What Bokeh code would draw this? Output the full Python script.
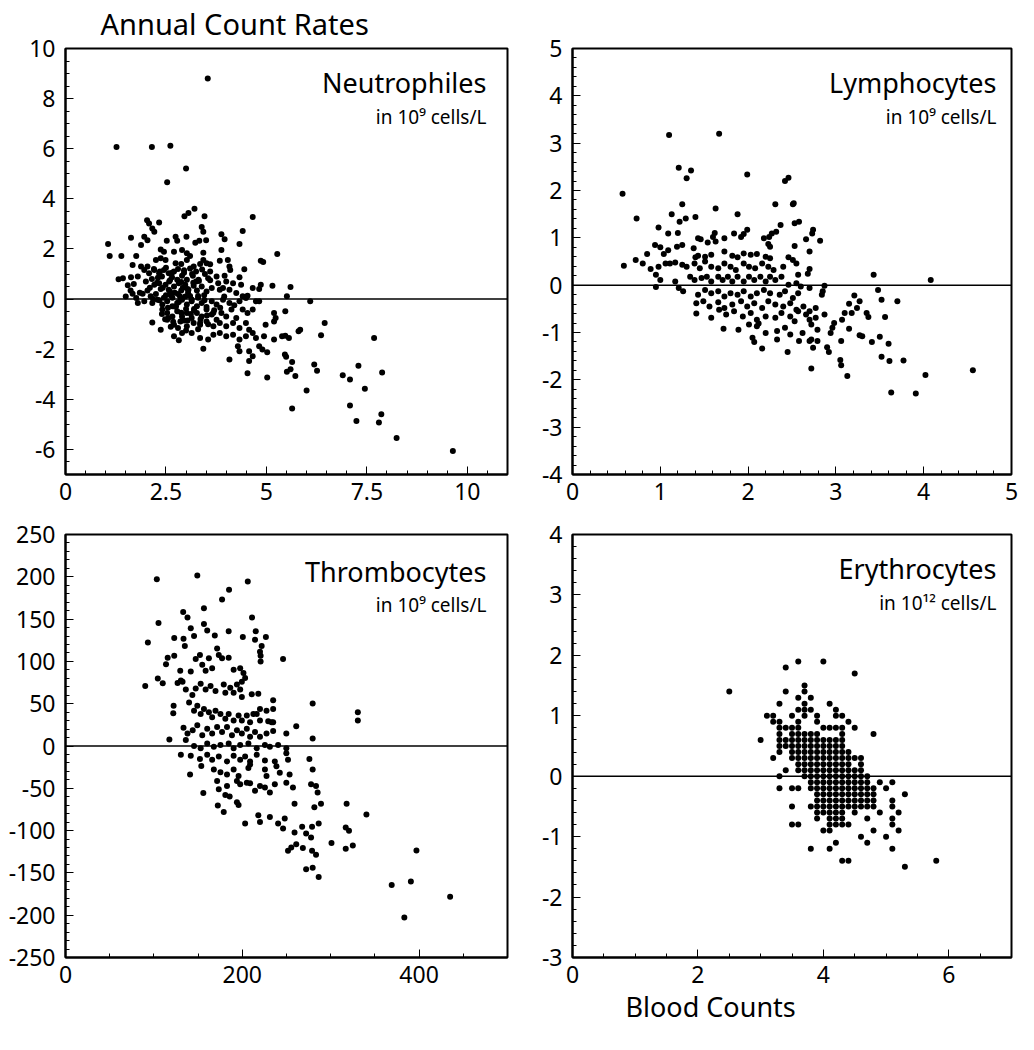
from bokeh.plotting import figure
from bokeh.layouts import column, row
from bokeh.models import FixedTicker, Span, Label, Title
from bokeh.embed import file_html
from bokeh.resources import INLINE

FONT = "Noto Sans"

# ---------------- Neutrophiles ----------------
neut_x = [3.54, 1.27, 2.15, 2.61, 3.00,
          5.64, 6.90, 7.08, 7.29, 7.45, 7.68, 7.88, 7.08, 7.24, 7.86, 7.80, 8.24, 9.64,
          2.53, 2.96, 3.06, 3.21, 3.46, 4.66,
          2.03, 2.08, 2.33, 2.16, 2.21, 3.39, 3.43, 4.41,
          1.06, 1.10, 1.63, 1.96, 2.04, 1.88, 2.52, 2.74, 2.78, 3.01,
          3.23, 3.33, 3.50, 3.88, 3.96, 4.33, 5.27,
          1.39, 1.76, 2.37, 2.45, 2.70, 2.90, 3.02, 3.10, 3.43, 3.43,
          3.88, 3.84, 4.04, 4.08, 4.10, 4.86, 4.92,
          1.67, 1.88, 2.04, 2.25, 2.37, 2.49,
          2.74, 2.88, 3.02, 3.19, 3.35, 3.51, 3.60, 4.45,
          1.32, 1.43, 1.63, 1.80, 1.96, 2.08, 2.21, 2.33, 2.45, 2.57,
          2.65, 2.78, 2.90, 3.02, 3.17, 3.31,
          3.47, 3.55, 3.76, 3.80, 3.96, 4.00, 4.17, 4.33, 4.37,
          4.86, 5.15, 5.60,
          1.62, 1.67, 1.76, 1.92, 2.04, 2.12,
          2.21, 2.33, 2.37, 2.49, 2.57, 2.70, 2.82, 2.88,
          2.98, 3.06, 3.19, 3.27, 3.39, 3.51,
          3.64, 3.84, 3.92, 4.08, 4.25, 4.41, 4.53, 4.66, 4.82,
          5.51, 6.09,
          1.80, 1.96, 2.16, 2.29, 2.41, 2.53, 2.66, 2.78,
          2.90, 3.02, 3.14, 3.27, 3.39, 3.51, 3.64, 3.76,
          3.92, 4.08, 4.33, 4.49, 4.74, 4.82,
          2.41, 2.53, 2.66, 2.78, 2.90, 3.02, 3.14, 3.27,
          3.39, 3.51, 3.64, 3.76, 3.88, 4.00, 4.13, 4.25,
          4.41, 4.53, 4.66, 5.19, 5.23, 5.47,
          2.16, 2.37, 2.53, 2.70, 2.86, 3.02, 3.19,
          3.35, 3.51, 3.68, 3.84, 4.00, 4.17, 4.33, 4.49, 4.57,
          4.98, 5.19, 6.45, 6.36, 5.80, 5.84,
          2.70, 2.90, 3.14, 3.35, 3.55, 3.68, 3.84, 4.00,
          4.17, 4.33, 4.49, 4.66, 4.74, 4.94,
          5.19, 5.39, 5.47, 5.56,
          2.82, 3.43, 4.29, 4.33, 4.57, 4.82, 4.90, 5.02,
          4.08, 4.57, 4.66,
          5.46, 5.49, 5.64, 5.60, 5.51,
          5.72, 6.19, 6.26, 4.53, 5.02, 6.00,
          2.25, 2.45, 2.62, 2.85, 3.10, 3.30, 2.55, 2.75, 3.00, 3.20,
          1.50, 1.55, 1.70, 2.00, 2.15, 2.95, 3.15, 3.60, 3.70, 3.85,
          2.30, 2.60, 2.80, 3.05, 3.25, 3.45, 2.48, 2.68, 2.95, 3.35,
          1.85, 2.10, 2.40, 2.70, 3.60, 3.95, 4.20, 2.60, 2.92, 3.12,
          2.20, 2.35, 2.50, 2.65, 2.80, 2.95, 3.10, 3.25, 3.40,
          2.28, 2.42, 2.58, 2.72, 2.88, 3.04, 3.18, 3.32,
          2.18, 2.34, 2.50, 2.66, 2.82, 2.98, 3.14, 3.30, 3.46,
          2.40, 2.56, 2.72, 2.88, 3.04, 3.20, 3.36, 3.52, 3.68,
          2.62, 2.80, 3.00, 3.30, 3.55]
neut_y = [8.80, 6.07, 6.07, 6.12, 5.21,
          -4.37, -3.04, -3.21, -2.66, -3.58, -1.55, -2.93, -4.25, -4.87, -4.60, -4.92, -5.54, -6.06,
          4.66, 3.31, 3.44, 3.61, 3.31, 3.28,
          3.15, 3.02, 3.06, 2.82, 2.69, 2.88, 2.69, 2.72,
          2.20, 1.72, 2.45, 2.49, 2.35, 2.16, 2.33, 2.49, 2.33, 2.49,
          2.25, 2.33, 2.35, 2.59, 2.39, 2.20, 1.80,
          1.72, 1.72, 1.98, 1.89, 1.89, 1.96, 1.83, 1.72, 1.85, 1.56,
          1.96, 1.53, 1.56, 1.30, 1.16, 1.53, 1.48,
          1.36, 1.30, 1.30, 1.56, 1.63, 1.56,
          1.43, 1.40, 1.56, 1.30, 1.40, 1.43, 1.39, 1.19,
          0.79, 0.83, 0.87, 0.90, 1.16, 1.03, 1.16, 1.03, 1.16, 1.03,
          0.87, 0.77, 0.93, 0.77, 0.93, 0.77,
          1.00, 0.83, 0.90, 0.63, 0.93, 0.70, 0.63, 0.87, 0.57,
          0.57, 0.53, 0.48,
          0.34, 0.21, 0.04, 0.21, 0.34, 0.11,
          0.57, 0.63, 0.40, 0.57, 0.37, 0.50, 0.63, 0.34,
          0.57, 0.37, 0.53, 0.34, 0.50, 0.30,
          0.44, 0.37, 0.44, 0.37, 0.24, 0.11, 0.13, 0.44, 0.40,
          0.11, -0.09,
          -0.16, -0.09, -0.16, -0.03, -0.22, -0.09, -0.29, -0.16,
          -0.03, -0.22, -0.09, -0.29, -0.16, -0.32, -0.09, -0.22,
          -0.03, -0.16, -0.09, 0.04, -0.09, -0.09,
          -0.42, -0.56, -0.69, -0.49, -0.69, -0.56, -0.75, -0.56,
          -0.69, -0.42, -0.62, -0.82, -0.56, -0.69, -0.42, -0.75,
          -0.42, -0.56, -0.42, -0.56, -0.75, -0.49,
          -0.93, -1.22, -0.82, -1.02, -0.89, -1.08, -0.95,
          -1.02, -0.89, -1.08, -0.95, -1.08, -0.95, -1.15, -0.95, -1.22,
          -1.02, -0.89, -0.95, -1.44, -1.28, -1.22,
          -1.48, -1.35, -1.35, -1.55, -1.61, -1.42, -1.35, -1.48,
          -1.42, -1.61, -1.48, -1.35, -1.55, -1.48,
          -1.61, -1.48, -1.46, -1.55,
          -1.64, -1.98, -1.88, -2.08, -2.08, -1.88, -2.01, -2.12,
          -2.41, -2.47, -2.28,
          -2.21, -2.30, -2.51, -2.80, -2.90,
          -3.07, -2.61, -2.86, -2.96, -3.13, -3.65,
          0.20, 0.05, 0.15, 0.10, 0.12, 0.05, -0.35, -0.30, -0.40, -0.45,
          0.10, 0.55, 0.60, 0.70, 0.80, 1.15, 1.00, 1.10, -0.45, -0.35,
          0.85, 0.75, 0.20, 0.25, 0.70, 0.15, -0.80, -0.90, -0.85, -0.95,
          0.25, 0.45, 0.90, 1.10, 0.75, 0.10, -0.25, 0.30, 0.45, -0.60,
          1.20, 1.10, 1.25, 1.05, 1.20, 1.05, 1.22, 1.10, 1.18,
          0.65, 0.45, 0.70, 0.25, 0.68, 0.40, 0.65, 0.72,
          0.00, -0.05, 0.15, 0.05, -0.12, 0.10, -0.02, 0.12, -0.05,
          -0.60, -0.75, -0.30, -0.55, -0.85, -0.40, -0.80, -0.65, -0.55,
          -1.10, -1.15, -1.25, -1.20, -1.00]

# ---------------- Lymphocytes ----------------
lymph_x = [1.10, 1.67, 1.21, 1.35, 1.30, 1.99, 2.46, 2.42,
           0.57, 1.25, 2.31, 2.51, 2.52, 0.73, 1.13, 1.63,
           1.88, 1.29, 1.40, 1.22, 0.98, 1.09, 1.20,
           2.53, 2.58, 2.37, 2.74, 2.73, 2.66, 2.82,
           1.62, 1.60, 1.63, 1.73, 1.84, 1.92, 1.99, 1.95,
           1.43, 1.46, 1.54, 2.18, 2.24, 2.27, 2.32, 2.23, 2.25,
           0.94, 1.00, 1.09, 1.04, 0.85, 2.53, 2.70, 1.19, 1.25,
           1.38, 1.40, 1.43, 1.51, 1.58, 1.73, 1.82, 1.88, 1.95, 2.03, 2.10,
           2.20, 2.25, 2.46, 2.51, 2.55,
           0.72, 0.80, 0.89, 0.98, 1.06, 1.11, 1.17, 0.585,
           1.25, 1.30, 1.39, 1.45, 1.51, 1.58, 1.66,
           1.73, 1.80, 1.86, 1.95, 2.01, 2.08, 2.16, 2.23, 2.29,
           2.40, 2.57, 2.68, 2.70, 0.95, 1.00, 0.95,
           1.17, 1.21, 1.26,
           1.34, 1.39, 1.47, 1.53, 1.58, 1.66, 1.71, 1.77, 1.82,
           1.88, 1.95, 2.01, 2.07, 2.14, 2.20, 2.25, 2.31, 2.38,
           2.46, 2.55, 2.60, 2.70, 2.87, 2.85, 2.84,
           1.43, 1.51, 1.58, 1.66, 1.73, 1.80, 1.88, 1.95, 2.03, 2.10, 2.18, 2.25,
           2.36, 2.42, 2.51, 2.57,
           1.41, 1.49, 1.56, 1.66, 1.73, 1.82, 1.92, 1.99, 2.07, 2.16, 2.23, 2.31,
           2.40, 2.48, 2.55, 2.63, 2.70, 2.77,
           1.41, 1.58, 1.67, 1.75, 1.84, 1.94, 2.03, 2.10,
           2.20, 2.31, 2.38, 2.48, 2.57, 2.66, 2.70, 2.77,
           2.87, 2.98, 2.96, 3.07, 3.10, 3.15, 3.21, 3.27, 3.24, 3.18, 3.35, 3.37,
           3.43, 3.48, 3.52, 3.56,
           1.72, 1.89, 2.01, 2.10, 2.12,
           2.20, 2.33, 2.42, 2.48, 2.53, 2.62, 2.72, 2.79,
           2.05, 2.07, 2.33, 2.16, 2.45, 2.58,
           2.70, 2.74, 2.72, 2.79, 2.90, 2.92,
           2.94, 3.06, 3.15, 3.27, 3.30,
           2.72, 3.05, 3.06, 3.13,
           3.41, 3.50, 3.60, 3.52, 3.61,
           3.70, 3.77, 3.91, 4.02, 4.08, 4.56, 3.63]
lymph_y = [3.17, 3.20, 2.48, 2.42, 2.26, 2.34, 2.27, 2.20,
           1.93, 1.71, 1.71, 1.71, 1.73, 1.41, 1.50, 1.62,
           1.50, 1.41, 1.44, 1.34, 1.22, 1.09, 1.10,
           1.31, 1.34, 1.27, 1.17, 1.09, 0.97, 0.94,
           1.10, 1.02, 0.92, 0.99, 1.09, 1.02, 1.17, 1.08,
           0.99, 0.97, 0.90, 0.99, 1.02, 1.09, 1.13, 0.87, 0.81,
           0.85, 0.80, 0.74, 0.66, 0.66, 0.83, 0.71, 0.81, 0.85,
           0.78, 0.59, 0.62, 0.60, 0.64, 0.71, 0.62, 0.59, 0.67, 0.64, 0.66,
           0.60, 0.57, 0.59, 0.53, 0.46,
           0.53, 0.46, 0.34, 0.39, 0.46, 0.46, 0.48, 0.41,
           0.43, 0.39, 0.46, 0.36, 0.50, 0.39, 0.36,
           0.46, 0.39, 0.32, 0.46, 0.39, 0.36, 0.46, 0.39, 0.32,
           0.39, 0.22, 0.24, 0.34, 0.22, 0.11, -0.04,
           0.08, -0.06, -0.13,
           0.18, 0.11, 0.15, 0.18, 0.08, 0.18, 0.11, 0.18, 0.08,
           0.18, 0.08, 0.18, 0.11, 0.18, 0.08, 0.18, 0.11, 0.18,
           0.01, 0.04, -0.03, -0.06, -0.01, -0.13, -0.20,
           -0.20, -0.10, -0.17, -0.13, -0.24, -0.17, -0.20, -0.13, -0.24, -0.17, -0.10, -0.17,
           -0.20, -0.13, -0.27, -0.17,
           -0.38, -0.34, -0.45, -0.36, -0.48, -0.41, -0.34, -0.45, -0.38, -0.48, -0.34, -0.41,
           -0.45, -0.38, -0.52, -0.45, -0.55, -0.48,
           -0.60, -0.69, -0.52, -0.62, -0.55, -0.66, -0.59, -0.73,
           -0.66, -0.69, -0.59, -0.66, -0.55, -0.62, -0.73, -0.69,
           -0.62, -0.80, -0.90, -0.73, -0.59, -0.39, -0.22, -0.34, -0.48, -0.59, -0.59, -0.67,
           0.22, -0.10, -0.31, -0.67,
           -0.92, -0.94, -0.83, -0.87, -0.81,
           -1.01, -0.97, -0.90, -1.04, -0.76, -1.01, -0.83, -0.94,
           -1.11, -1.20, -1.15, -1.34, -1.41, -1.18,
           -1.18, -1.32, -1.15, -1.18, -1.31, -1.41,
           -1.01, -1.18, -0.92, -1.06, -1.08,
           -1.76, -1.58, -1.69, -1.92,
           -1.20, -1.09, -1.24, -1.51, -1.60,
           -0.34, -1.59, -2.29, -1.90, 0.11, -1.80, -2.27]

# ---------------- Thrombocytes ----------------
throm_x = [103.3, 149.1, 206.2, 185.0, 177.1, 156.6, 133.1, 138.0, 105.2, 211.0,
           93.2, 123.0, 133.5, 135.0, 141.7, 145.4, 156.6, 160.3, 168.9, 184.6, 200.6,
           215.2, 214.4, 226.7, 221.9, 220.0, 220.7, 220.7, 246.1,
           115.6, 123.0, 113.7, 129.8, 130.5, 126.8, 132.4, 104.4, 110.0, 90.2,
           141.7, 147.3, 152.1, 154.7, 158.5, 162.2, 165.9, 171.5, 173.4, 177.1, 184.6,
           190.2, 197.6, 201.3, 203.2, 199.5, 193.9, 186.4,
           136.1, 143.5, 147.3, 152.9, 158.5, 164.1, 169.7, 179.0, 180.8,
           190.2, 197.6, 199.5, 210.7, 218.1, 212.5,
           122.3, 121.9, 139.8, 145.4, 149.1, 152.9, 156.6, 162.2, 165.9, 169.7,
           175.3, 180.8, 184.6, 190.2, 195.8, 199.5, 205.1, 208.8, 216.3, 220.0,
           227.4, 234.9, 229.3, 233.1, 234.9, 234.9, 220.0, 234.9,
           261.0, 249.8, 279.6, 279.6, 330.7, 330.7,
           133.5, 138.0, 143.9, 149.1, 154.7, 160.3, 165.9, 171.5, 177.1, 182.7, 188.3, 193.9, 199.5, 205.1, 208.8, 214.4, 220.0, 227.4,
           117.5, 136.1, 145.4, 152.9, 160.3, 167.8, 175.3, 184.6, 190.2, 197.6, 206.9, 216.3, 225.6, 231.2, 240.5, 249.8,
           130.5, 141.7, 152.1, 160.3, 165.9, 173.4, 182.7, 190.2, 197.6, 203.2, 208.8, 216.3, 225.6, 236.8, 249.8, 251.7, 275.9,
           140.9, 153.6, 167.8, 175.3, 182.7, 190.2, 195.8, 206.9, 208.8, 225.6, 227.4, 238.6, 242.4, 253.5, 279.6,
           171.5, 173.4, 182.7, 193.9, 197.6, 205.1, 208.8, 214.4, 220.0, 225.6, 231.2, 236.8, 249.8, 257.3, 277.8, 283.4, 285.2, 289.0, 281.5, 259.1,
           155.9, 180.8, 185.7, 193.9, 195.8, 172.3, 179.0,
           203.2, 218.1, 220.0, 231.2, 240.5, 248.0, 246.1, 259.1,
           267.7, 278.9, 286.4, 272.2, 277.8, 261.0, 255.4, 251.7, 268.5,
           278.9, 283.4, 300.9, 272.2, 279.6, 286.4,
           318.0, 317.0, 320.7, 317.0, 325.0, 340.4, 369.0, 383.3, 390.7, 397.0, 435.1]
throm_y = [197.2, 201.5, 194.5, 184.8, 173.2, 162.8, 158.5, 152.0, 145.4, 152.0,
           122.2, 127.6, 126.8, 118.3, 139.2, 129.9, 144.2, 136.5, 130.7, 135.7, 128.8,
           135.7, 125.7, 128.8, 118.3, 111.4, 106.7, 99.8, 102.9,
           104.4, 106.7, 96.7, 88.9, 77.3, 74.6, 75.8, 79.7, 74.2, 70.8,
           88.2, 102.9, 107.5, 95.9, 88.9, 103.6, 92.0, 115.2, 107.5, 103.6, 104.4,
           90.1, 92.0, 86.2, 80.4, 75.8, 72.7, 68.8,
           66.9, 60.3, 68.1, 73.5, 66.9, 70.8, 65.0, 72.7, 63.0,
           63.0, 66.9, 58.0, 61.1, 61.9, 37.9,
           47.6, 38.7, 51.4, 41.8, 47.6, 37.9, 43.7, 39.8, 34.0, 41.8,
           37.9, 32.1, 37.9, 30.2, 36.0, 30.2, 36.0, 28.2, 37.9, 30.2,
           41.8, 43.7, 29.4, 28.2, 28.2, 17.8, 43.7, 54.1,
           23.2, 14.7, 50.3, 8.9, 39.8, 30.1,
           21.7, 14.7, 18.6, 24.4, 12.8, 20.5, 14.7, 22.4, 16.6, 22.4, 12.8, 18.6, 14.7, 20.5, 10.8, 16.6, 10.8, 14.7,
           7.7, 7.0, 0.0, -2.7, 3.1, -0.8, 1.2, 3.1, -2.7, 1.2, 3.1, -2.7, 1.2, -0.8, 1.2, -2.7,
           -10.4, -11.6, -15.5, -10.4, -16.2, -12.4, -18.2, -11.6, -16.2, -12.4, -18.2, -10.4, -17.0, -18.2, -8.5, -16.2, -15.5,
           -33.6, -23.6, -27.8, -30.9, -33.6, -27.8, -35.6, -25.9, -22.0, -27.8, -35.6, -24.0, -31.7, -33.6, -27.8,
           -41.4, -51.0, -47.2, -41.4, -45.2, -43.3, -44.1, -53.0, -47.2, -49.1, -54.9, -45.2, -43.3, -49.1, -45.2, -47.2, -54.9, -68.4, -72.3, -68.4,
           -55.7, -58.0, -59.6, -66.5, -69.6, -70.4, -78.1,
           -91.6, -82.0, -89.7, -83.9, -91.6, -85.8, -97.4, -102.1,
           -95.5, -95.5, -91.6, -103.3, -108.3, -116.0, -119.9, -123.8, -120.6,
           -123.8, -128.4, -114.8, -145.8, -143.8, -154.7,
           -68.4, -96.3, -100.2, -121.5, -117.6, -80.9, -164.4, -202.7, -160.1, -123.4, -178.3]

# ---------------- Erythrocytes (values on a 0.1 grid) ----------------
ery_levels = [1.9, 1.8, 1.7, 1.5, 1.4, 1.3, 1.2, 1.1, 1.0, 0.9, 0.8, 0.7, 0.6, 0.5, 0.4,
              0.3, 0.2, 0.1, 0.0, -0.1, -0.2, -0.3, -0.4, -0.5, -0.6, -0.7, -0.8, -0.9,
              -1.0, -1.1, -1.2, -1.4, -1.5]
ery_counts_at_level = [
    [3.6, 4.0],
    [3.4],
    [4.5],
    [3.7],
    [2.5, 3.4, 3.7],
    [3.6, 3.8],
    [3.3, 3.7, 4.1],
    [3.6, 3.7, 3.8, 4.2],
    [3.1, 3.2, 3.5, 3.7, 3.9, 4.2, 4.3],
    [3.2, 3.3, 3.6, 3.9, 4.4],
    [3.3, 3.4, 3.5, 3.6, 4.0, 4.1, 4.2, 4.3, 4.5],
    [3.3, 3.5, 3.6, 3.7, 3.8, 3.9, 4.3, 4.8],
    [3.0, 3.3, 3.4, 3.5, 3.6, 3.7, 3.8, 3.9, 4.0, 4.1, 4.2, 4.3],
    [3.3, 3.4, 3.5, 3.6, 3.7, 3.8, 3.9, 4.0, 4.1, 4.2, 4.3],
    [3.3, 3.5, 3.6, 3.7, 3.8, 3.9, 4.0, 4.1, 4.2, 4.3, 4.4],
    [3.2, 3.5, 3.6, 3.7, 3.8, 3.9, 4.0, 4.1, 4.2, 4.3, 4.4, 4.5, 4.6],
    [3.6, 3.7, 3.8, 3.9, 4.0, 4.1, 4.2, 4.3, 4.4, 4.6],
    [3.4, 3.6, 3.7, 3.8, 3.9, 4.0, 4.1, 4.2, 4.3, 4.4, 4.5, 4.6],
    [3.3, 3.7, 3.8, 3.9, 4.0, 4.1, 4.2, 4.3, 4.4, 4.5, 4.6, 4.7],
    [3.8, 3.9, 4.0, 4.1, 4.2, 4.3, 4.4, 4.5, 4.6, 4.7, 4.9, 5.1],
    [3.3, 3.5, 3.6, 3.8, 3.9, 4.0, 4.1, 4.2, 4.3, 4.4, 4.5, 4.6, 4.7, 4.8, 5.0],
    [3.9, 4.0, 4.1, 4.2, 4.3, 4.4, 4.5, 4.6, 4.7, 4.8, 5.3],
    [3.9, 4.0, 4.1, 4.2, 4.3, 4.4, 4.5, 4.6, 4.7, 4.8, 5.1],
    [3.5, 3.8, 3.9, 4.0, 4.1, 4.2, 4.3, 4.4, 4.5, 4.6, 4.7, 4.8, 5.1],
    [3.9, 4.0, 4.1, 4.2, 4.3, 4.5, 4.9, 5.2],
    [3.9, 4.1, 4.2, 4.3, 4.7, 5.1],
    [3.5, 3.6, 4.1, 4.2, 4.3, 4.4, 5.1],
    [4.0, 4.1, 4.8, 5.2],
    [4.6, 5.0],
    [4.2, 4.7],
    [3.8, 4.1, 5.1],
    [4.3, 4.4, 5.8],
    [5.3],
]
ery_x = [xv for row_x in ery_counts_at_level for xv in row_x]
ery_y = [lv for lv, row_x in zip(ery_levels, ery_counts_at_level) for _ in row_x]

# ---------------- axes ----------------
neut_xticks = [0, 2.5, 5, 7.5, 10]
neut_yticks = [-6, -4, -2, 0, 2, 4, 6, 8, 10]
lymph_xticks = [0, 1, 2, 3, 4, 5]
lymph_yticks = [-4, -3, -2, -1, 0, 1, 2, 3, 4, 5]
throm_xticks = [0, 200, 400]
throm_yticks = [-250, -200, -150, -100, -50, 0, 50, 100, 150, 200, 250]
ery_xticks = [0, 2, 4, 6]
ery_yticks = [-3, -2, -1, 0, 1, 2, 3, 4]

panel_names = ["Neutrophiles", "Lymphocytes", "Thrombocytes", "Erythrocytes"]
panel_units = ["in 10\u2079 cells/L", "in 10\u2079 cells/L", "in 10\u2079 cells/L", "in 10\u00b9\u00b2 cells/L"]
main_title = "Annual Count Rates"
x_title = "Blood Counts"

BASELINE_FIX = 0.36  # label baseline correction, in em


def minor_list(lo, hi, step, majors):
    out = []
    n = int(round((hi - lo) / step))
    for i in range(n + 1):
        v = round(lo + i * step, 6)
        if all(abs(v - m) > 1e-9 for m in majors):
            out.append(v)
    return out


def make_panel(xs, ys, xr, yr, xt, yt, xminor, yminor, width, height,
               bl, br, bt, bb, name, unit, text_inset, name_drop, unit_drop):
    p = figure(width=width, height=height, x_range=xr, y_range=yr,
               output_backend="svg", toolbar_location=None,
               min_border_left=bl, min_border_right=br,
               min_border_top=bt, min_border_bottom=bb)
    p.background_fill_color = "white"
    p.border_fill_color = "white"
    p.grid.visible = False
    p.outline_line_color = "black"
    p.outline_line_width = 2
    p.outline_line_alpha = 1.0

    p.xaxis.ticker = FixedTicker(ticks=xt, minor_ticks=minor_list(xr[0], xr[1], xminor, xt))
    p.yaxis.ticker = FixedTicker(ticks=yt, minor_ticks=minor_list(yr[0], yr[1], yminor, yt))
    p.xaxis.major_label_overrides = {v: str(v) for v in xt}
    p.yaxis.major_label_overrides = {v: str(v) for v in yt}
    for ax in (p.xaxis[0], p.yaxis[0]):
        ax.axis_line_color = "black"
        ax.axis_line_width = 2
        ax.major_tick_in = 8
        ax.major_tick_out = 0
        ax.minor_tick_in = 4
        ax.minor_tick_out = 0
        ax.major_tick_line_color = "black"
        ax.minor_tick_line_color = "black"
        ax.major_tick_line_width = 1
        ax.minor_tick_line_width = 1
        ax.major_label_text_font = FONT
        ax.major_label_text_font_size = "23px"
        ax.major_label_text_color = "black"
    p.yaxis.major_label_standoff = 10
    p.xaxis.major_label_standoff = 8

    p.add_layout(Span(location=0, dimension="width", line_color="black", line_width=1.5))
    p.scatter(xs, ys, size=6, color="black", line_width=0)

    fw = width - bl - br
    fh = height - bt - bb
    p.add_layout(Label(x=fw - text_inset, y=fh - name_drop + BASELINE_FIX * 27,
                       x_units="screen", y_units="screen",
                       text=name, text_font=FONT, text_font_size="27px", text_color="black",
                       text_align="right", text_baseline="alphabetic"))
    p.add_layout(Label(x=fw - text_inset, y=fh - unit_drop + BASELINE_FIX * 19,
                       x_units="screen", y_units="screen",
                       text=unit, text_font=FONT, text_font_size="19px", text_color="black",
                       text_align="right", text_baseline="alphabetic"))
    return p


# top row: frames y 47..474 ; bottom row: frames y 534..957
p1 = make_panel(neut_x, neut_y, (0, 11), (-7, 10), neut_xticks, neut_yticks, 0.5, 0.5,
                522, 516, 65, 15, 47, 42, panel_names[0], panel_units[0], 21, 45, 76)
p2 = make_panel(lymph_x, lymph_y, (0, 5), (-4, 5), lymph_xticks, lymph_yticks, 0.2, 0.2,
                496, 516, 50, 7, 47, 42, panel_names[1], panel_units[1], 15, 45, 76)
p3 = make_panel(throm_x, throm_y, (0, 500), (-250, 250), throm_xticks, throm_yticks, 50, 10,
                522, 518, 65, 15, 18, 77, panel_names[2], panel_units[2], 21, 47, 77)
p4 = make_panel(ery_x, ery_y, (0, 7), (-3, 4), ery_xticks, ery_yticks, 0.5, 0.2,
                496, 518, 50, 7, 18, 77, panel_names[3], panel_units[3], 15, 44, 75)

p1.add_layout(Title(text=main_title, align="left", offset=35, standoff=7,
                    vertical_align="top", text_font=FONT, text_font_size="29px",
                    text_font_style="normal", text_color="black"), "above")
p4.add_layout(Title(text=x_title, align="left", offset=53, standoff=0,
                    text_font=FONT, text_font_size="27px",
                    text_font_style="normal", text_color="black"), "below")

layout = column(row(p1, p2), row(p3, p4))

with open("out.html", "w") as f:
    f.write(file_html(layout, INLINE))
